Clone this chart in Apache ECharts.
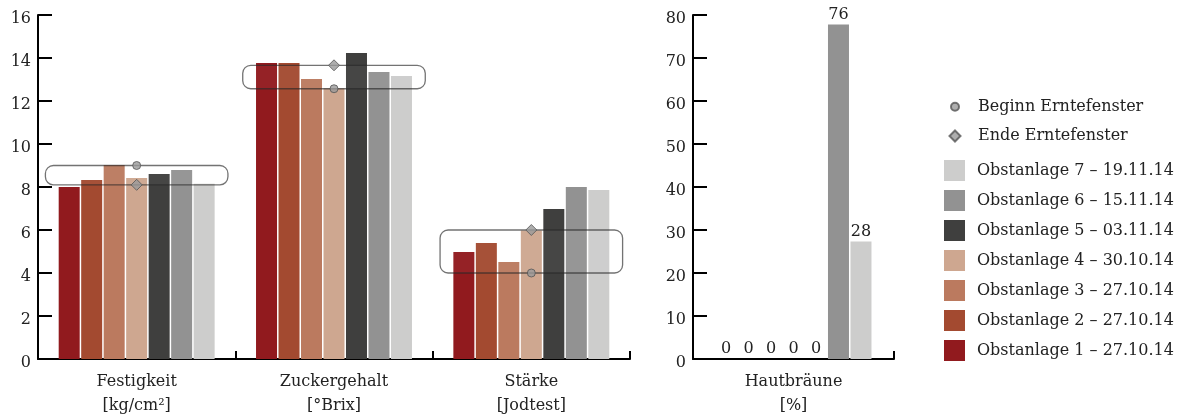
<!DOCTYPE html>
<html>
<head>
<meta charset="utf-8">
<script src="https://cdn.jsdelivr.net/npm/echarts@6/dist/echarts.min.js"></script>
<style>
html,body{margin:0;padding:0;background:#fff;}
#chart{width:1191px;height:414px;}
</style>
</head>
<body>
<div id="chart"></div>
<script>
// ---- data ----
var categories = ['Festigkeit', 'Zuckergehalt', 'Stärke'];
var units = ['[kg/cm²]', '[°Brix]', '[Jodtest]'];
var rightCategory = ['Hautbräune'];
var rightUnit = ['[%]'];
var seriesNames = [
  'Obstanlage 1 – 27.10.14',
  'Obstanlage 2 – 27.10.14',
  'Obstanlage 3 – 27.10.14',
  'Obstanlage 4 – 30.10.14',
  'Obstanlage 5 – 03.11.14',
  'Obstanlage 6 – 15.11.14',
  'Obstanlage 7 – 19.11.14'
];
var festigkeit   = [8.0, 8.33, 9.02, 8.42, 8.6, 8.79, 8.15];
var zuckergehalt = [13.77, 13.77, 13.02, 12.59, 14.23, 13.35, 13.16];
var staerke      = [4.98, 5.4, 4.51, 5.98, 6.98, 8.0, 7.86];
var hautbraeune  = [0, 0, 0, 0, 0, 77.8, 27.3];
var hautLabels   = ['0', '0', '0', '0', '0', '76', '28'];
var beginWindow  = [9.0, 12.57, 4.0];
var endWindow    = [8.1, 13.66, 6.0];
var leftTicks  = {min: 0, max: 16, interval: 2};
var rightTicks = {min: 0, max: 80, interval: 10};

// ---- styles ----
var colors = ['#911a1e', '#a34a30', '#bb7a5f', '#cea790', '#3f3f3e', '#929292', '#cdcdcc'];
var FONT = 'DejaVu Serif';
var TXT = '#222';

var series = [];
for (var i = 0; i < seriesNames.length; i++) {
  series.push({
    type: 'bar', name: seriesNames[i], xAxisIndex: 0, yAxisIndex: 0,
    data: [festigkeit[i], zuckergehalt[i], staerke[i]],
    barWidth: 21, barGap: '7.1%',
    itemStyle: {color: colors[i]}, z: 2
  });
}
for (var j = 0; j < seriesNames.length; j++) {
  (function (k) {
    series.push({
      type: 'bar', name: seriesNames[k], xAxisIndex: 1, yAxisIndex: 1,
      data: [hautbraeune[k]],
      barWidth: 21, barGap: '7.1%',
      itemStyle: {color: colors[k]}, z: 2,
      label: {show: true, position: 'top', distance: 2, color: TXT, fontFamily: FONT, fontSize: 16,
        formatter: function () { return hautLabels[k]; }}
    });
  })(j);
}
var boxData = categories.map(function (c, idx) { return [idx, beginWindow[idx], endWindow[idx]]; });
series.push({
  type: 'custom', xAxisIndex: 0, yAxisIndex: 0, z: 4, silent: true,
  data: boxData,
  encode: {x: 0, y: [1, 2]},
  renderItem: function (params, api) {
    var idx = api.value(0);
    var p1 = api.coord([idx, api.value(1)]);
    var p2 = api.coord([idx, api.value(2)]);
    var w = api.size([1, 0])[0] * 0.925;
    var top = Math.min(p1[1], p2[1]);
    var h = Math.abs(p1[1] - p2[1]);
    return {
      type: 'rect',
      shape: {x: p1[0] - w / 2, y: top, width: w, height: h, r: 8},
      style: {fill: 'rgba(255,255,255,0.04)', stroke: 'rgba(40,40,40,0.65)', lineWidth: 1.3}
    };
  }
});
series.push({
  type: 'scatter', name: 'Beginn Erntefenster', xAxisIndex: 0, yAxisIndex: 0, z: 6,
  data: beginWindow, symbol: 'circle', symbolSize: 8,
  itemStyle: {color: '#9a9a9a', borderColor: '#555', borderWidth: 1}
});
series.push({
  type: 'scatter', name: 'Ende Erntefenster', xAxisIndex: 0, yAxisIndex: 0, z: 6,
  data: endWindow, symbol: 'diamond', symbolSize: 11,
  itemStyle: {color: '#9a9a9a', borderColor: '#555', borderWidth: 1}
});

function yAxisCfg(ticks, gridIndex) {
  return {
    type: 'value', gridIndex: gridIndex, min: ticks.min, max: ticks.max, interval: ticks.interval,
    splitLine: {show: false},
    axisLine: {show: true, lineStyle: {color: '#000', width: 2}},
    axisTick: {show: true, inside: true, length: 14, lineStyle: {color: '#000', width: 2}},
    axisLabel: {color: TXT, fontFamily: FONT, fontSize: 16, margin: 7, verticalAlign: 'top', lineHeight: 8}
  };
}
function xAxisCfg(cats, unitArr, gridIndex) {
  return {
    type: 'category', gridIndex: gridIndex,
    data: cats.map(function (c, i) { return c + '\n' + unitArr[i]; }),
    axisLine: {show: true, lineStyle: {color: '#000', width: 2}},
    axisTick: {show: true, inside: true, length: 8, lineStyle: {color: '#000', width: 2}},
    axisLabel: {color: TXT, fontFamily: FONT, fontSize: 16, margin: 11, lineHeight: 24, verticalAlign: 'top'}
  };
}

function legendText(padLeft) {
  return {color: TXT, fontFamily: FONT, fontSize: 16, lineHeight: 20, padding: [0, 0, 0, padLeft]};
}
var option = {
  animation: false,
  backgroundColor: '#fff',
  grid: [
    {left: 38, top: 15, width: 592, height: 344, containLabel: false, outerBoundsMode: 'none'},
    {left: 693, top: 15, width: 201, height: 344, containLabel: false, outerBoundsMode: 'none'}
  ],
  xAxis: [xAxisCfg(categories, units, 0), xAxisCfg(rightCategory, rightUnit, 1)],
  yAxis: [yAxisCfg(leftTicks, 0), yAxisCfg(rightTicks, 1)],
  legend: [
    {orient: 'vertical', left: 950, top: 96.7, padding: 0, itemWidth: 8, itemHeight: 8,
      data: [{name: 'Beginn Erntefenster', icon: 'circle'}], textStyle: legendText(14), selectedMode: false},
    {orient: 'vertical', left: 948.5, top: 126, padding: 0, itemWidth: 11, itemHeight: 11,
      data: [{name: 'Ende Erntefenster', icon: 'diamond'}], textStyle: legendText(12.5), selectedMode: false},
    {orient: 'vertical', left: 944, top: 160, padding: 0, itemWidth: 21, itemHeight: 21, itemGap: 9,
      icon: 'rect', data: seriesNames.slice().reverse(), textStyle: legendText(7), selectedMode: false}
  ],
  series: series
};
var chart = echarts.init(document.getElementById('chart'), null, {renderer: 'canvas'});
chart.setOption(option);
</script>
</body>
</html>
